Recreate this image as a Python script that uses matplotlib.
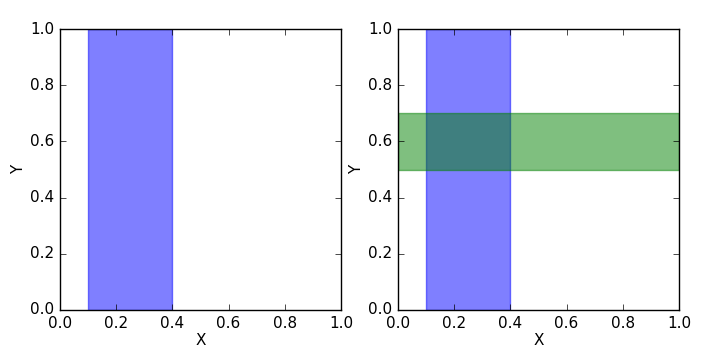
import matplotlib
matplotlib.use("Agg")
import matplotlib.pyplot as plt

plt.style.use("classic")
plt.rcParams['font.family'] = ['DejaVu Sans']
plt.rcParams['font.size'] = 11

vspan = (0.1, 0.4)
hspan = (0.5, 0.7)
ticks = [0.0, 0.2, 0.4, 0.6, 0.8, 1.0]

fig = plt.figure(figsize=(7.11, 3.62), dpi=100)
fig.patch.set_facecolor('white')
ax1 = fig.add_axes([60/711, 1-310/362, 281/711, 281/362])
ax2 = fig.add_axes([398/711, 1-310/362, 281/711, 281/362])

ax1.axvspan(vspan[0], vspan[1], color='b', alpha=0.5)
ax2.axvspan(vspan[0], vspan[1], color='b', alpha=0.5)
ax2.axhspan(hspan[0], hspan[1], color='g', alpha=0.5)

for ax in (ax1, ax2):
    ax.set_xlim(0, 1)
    ax.set_ylim(0, 1)
    ax.set_xticks(ticks)
    ax.set_yticks(ticks)
    ax.tick_params(labelsize=11)
    ax.set_xlabel('X', fontsize=11, labelpad=2)
    ax.set_ylabel('Y', fontsize=11, labelpad=3)

fig.savefig('out.png', dpi=100, facecolor='white')
